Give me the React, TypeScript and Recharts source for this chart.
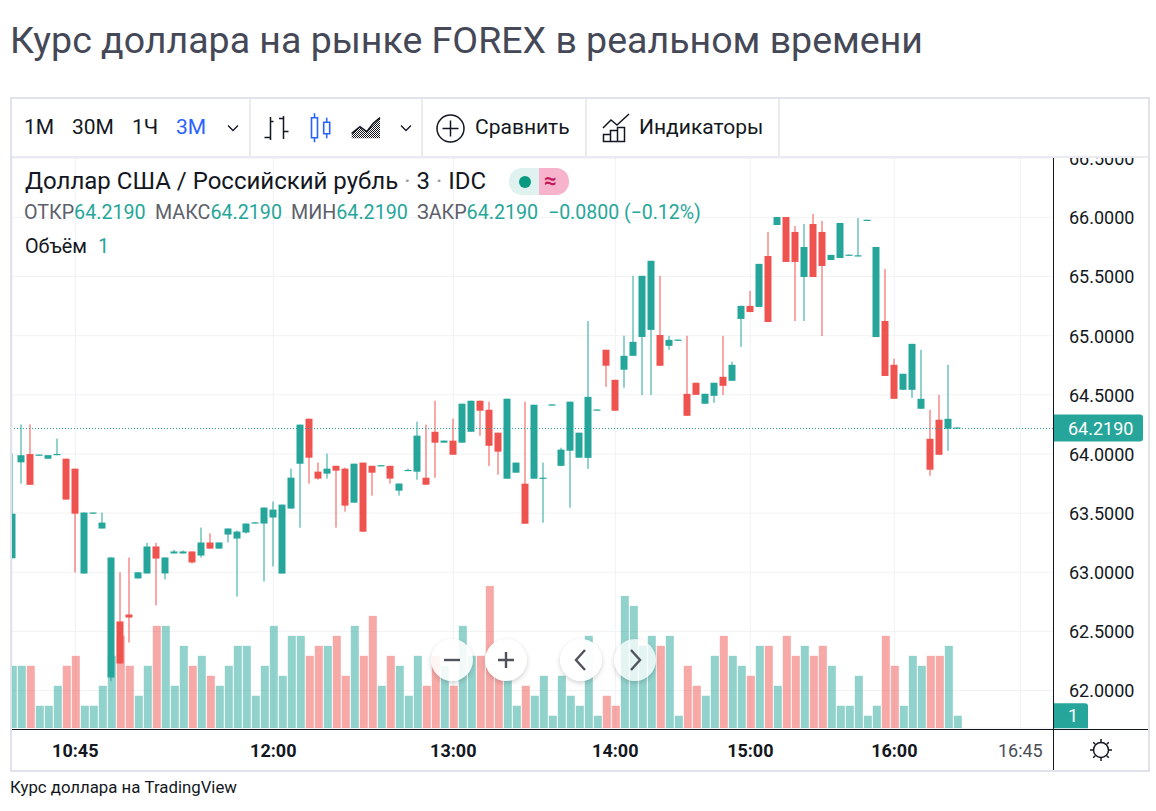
import { Bar, CartesianGrid, ComposedChart, ReferenceLine, XAxis, YAxis } from "recharts";

const opens = [
  63.12, 63.93, 64.0, 63.985, 63.96, 63.99, 63.96, 63.876, 62.99, 63.495, 63.37, 62.112, 62.585, 62.644, 62.948, 62.99,
  63.218, 62.99, 63.159, 63.159, 63.176, 63.142, 63.252, 63.2, 63.319, 63.285, 63.336, 63.412, 63.412, 63.463, 62.99,
  63.539, 63.918, 64.298, 63.851, 63.834, 63.9, 63.876, 63.589, 63.927, 63.9, 63.895, 63.9, 63.69, 63.86, 63.851, 63.8,
  64.188, 64.096, 64.113, 64.096, 64.188, 64.45, 64.374, 64.18, 63.792, 63.842, 63.75, 63.792, 63.792, 64.409, 63.9,
  64.028, 63.969, 63.969, 64.366, 64.881, 64.627, 64.713, 64.831, 64.99, 65.05, 65.007, 64.914, 64.957, 64.509, 64.602,
  64.425, 64.492, 64.653, 64.619, 65.142, 65.252, 65.244, 65.674, 65.936, 66.003, 65.877, 65.497, 65.944, 65.877, 65.64,
  65.657, 65.675, 65.672, 65.97, 64.99, 65.125, 64.754, 64.543, 64.543, 64.383, 64.129, 64.29, 64.214, 64.214,
];
const highs = [
  64.004, 64.25, 64.25, 63.995, 63.99, 64.13, 63.96, 63.876, 63.505, 63.505, 63.505, 63.125, 63.0, 63.125, 63.0, 63.249,
  63.249, 63.125, 63.19, 63.184, 63.176, 63.378, 63.328, 63.252, 63.37, 63.353, 63.412, 63.422, 63.547, 63.598, 63.572,
  63.876, 64.248, 64.298, 63.927, 64.003, 63.9, 63.885, 63.918, 63.927, 63.9, 63.905, 63.9, 63.75, 63.876, 64.273, 64.248,
  64.45, 64.113, 64.298, 64.425, 64.45, 64.45, 64.442, 64.18, 64.467, 63.927, 64.442, 64.416, 63.927, 64.419, 64.053,
  64.442, 64.18, 65.125, 64.376, 64.881, 64.627, 65.0, 65.506, 65.506, 65.633, 65.506, 64.999, 64.967, 64.999, 64.602,
  64.509, 64.602, 64.999, 64.78, 65.252, 65.379, 65.607, 65.877, 66.003, 66.003, 65.927, 65.944, 66.029, 65.97, 65.683,
  65.953, 65.685, 65.995, 65.98, 65.75, 65.564, 64.805, 64.678, 64.931, 64.881, 64.374, 64.5, 64.754, 64.224,
];
const lows = [
  63.12, 63.75, 63.74, 63.985, 63.96, 63.99, 63.615, 63.0, 62.99, 63.495, 63.37, 62.08, 62.23, 62.407, 62.948, 62.99,
  62.72, 62.94, 63.159, 63.159, 63.074, 63.125, 63.2, 63.2, 63.252, 62.796, 63.327, 63.412, 62.922, 63.05, 62.99, 63.539,
  63.378, 63.75, 63.783, 63.792, 63.378, 63.513, 63.589, 63.344, 63.648, 63.895, 63.75, 63.648, 63.86, 63.783, 63.741, 63.8,
  64.096, 63.994, 64.096, 64.188, 64.155, 63.9, 63.826, 63.792, 63.842, 63.412, 63.792, 63.42, 64.409, 63.9, 63.547,
  63.969, 63.876, 64.366, 64.568, 64.366, 64.56, 64.831, 64.5, 64.5, 64.747, 64.88, 64.957, 64.324, 64.5, 64.425, 64.433,
  64.5, 64.619, 64.906, 65.2, 65.244, 65.117, 65.936, 65.624, 65.125, 65.125, 65.497, 64.999, 65.64, 65.657, 65.675, 65.672,
  65.97, 64.99, 64.661, 64.467, 64.543, 64.475, 64.383, 63.817, 63.994, 64.028, 64.214,
];
const closes = [
  63.496, 63.99, 63.74, 63.995, 63.99, 64.0, 63.615, 63.496, 63.505, 63.505, 63.42, 63.125, 62.23, 62.618, 63.0, 63.218,
  63.116, 63.125, 63.176, 63.176, 63.083, 63.252, 63.2, 63.252, 63.37, 63.344, 63.412, 63.422, 63.547, 63.53, 63.572, 63.8,
  64.248, 63.969, 63.792, 63.876, 63.859, 63.564, 63.918, 63.344, 63.842, 63.905, 63.792, 63.75, 63.865, 64.155, 63.741,
  64.096, 64.113, 63.994, 64.425, 64.45, 64.366, 64.07, 64.02, 64.467, 63.927, 63.412, 64.416, 63.8, 64.419, 64.037,
  64.442, 64.18, 64.484, 64.376, 64.746, 64.366, 64.83, 64.949, 65.506, 65.633, 64.747, 64.965, 64.967, 64.324, 64.5,
  64.509, 64.602, 64.577, 64.754, 65.252, 65.2, 65.607, 65.117, 66.003, 65.624, 65.624, 65.75, 65.497, 65.59, 65.683,
  65.953, 65.685, 65.68, 65.98, 65.75, 64.661, 64.467, 64.678, 64.931, 64.467, 63.868, 63.994, 64.298, 64.224,
];
const volumes = [
  6, 6, 6, 2, 2, 4, 6, 7, 2, 2, 4, 7, 9, 6, 3, 6, 10, 10, 4, 8, 6, 7, 5, 4, 6, 8, 8, 3, 6, 10, 5, 9, 9, 7, 8, 8, 9, 5, 10, 7,
  11, 4, 7, 6, 3, 7, 4, 7, 6, 4, 10, 7, 7, 14, 5, 5, 2, 4, 3, 5, 1, 5, 3, 2, 9, 1, 3, 2, 13, 12, 8, 9, 8, 9, 1, 6, 4, 3, 7, 9,
  7, 6, 5, 8, 8, 4, 9, 7, 8, 7, 8, 6, 2, 2, 5, 1, 2, 9, 6, 2, 7, 6, 7, 7, 8, 1,
];

const timeTicks = [7, 29, 49, 67, 82, 98, 112];
const timeLabels = ["10:45", "12:00", "13:00", "14:00", "15:00", "16:00", "16:45"];
const priceTicks = [62, 62.5, 63, 63.5, 64, 64.5, 65, 65.5, 66, 66.5];
const lastPrice = 64.219;
const lastVolume = 1;

const legendValues = [
  { label: "ОТКР", value: "64.2190", x: 24 },
  { label: "МАКС", value: "64.2190", x: 155 },
  { label: "МИН", value: "64.2190", x: 291 },
  { label: "ЗАКР", value: "64.2190", x: 417 },
];

const UP = "#26a69a";
const DOWN = "#ef5350";
const FONT = "Roboto, sans-serif";
const PRICE_DOMAIN = [61.6835, 66.5105];
const PX_PER_UNIT = 572 / (PRICE_DOMAIN[1] - PRICE_DOMAIN[0]);

const rows = opens.map((open, i) => ({
  i,
  open,
  high: highs[i],
  low: lows[i],
  close: closes[i],
  volume: volumes[i],
}));

function Candle(props: any) {
  const { x, y, width, payload } = props;
  if (!payload) return null;
  const color = payload.close >= payload.open ? UP : DOWN;
  const cx = Math.round(x + width / 2);
  const yOf = (v: number) => y + (payload.high - v) * PX_PER_UNIT;
  const top = yOf(Math.max(payload.open, payload.close));
  const bottom = yOf(Math.min(payload.open, payload.close));
  return (
    <g>
      <rect x={cx - 0.5} y={y} width={1} height={(payload.high - payload.low) * PX_PER_UNIT} fill={color} />
      <rect x={cx - 3.5} y={top} width={7} height={Math.max(bottom - top, 1.2)} fill={color} />
    </g>
  );
}

function VolumeBar(props: any) {
  const { x, y, width, height, payload } = props;
  if (!payload) return null;
  const fill = payload.close >= payload.open ? UP : DOWN;
  return <rect x={x} y={y} width={width} height={height} fill={fill} fillOpacity={0.5} />;
}

function TimeTick({ x, y, payload }: any) {
  const idx = timeTicks.indexOf(payload.value);
  const minor = timeLabels[idx] === "16:45";
  return (
    <text
      x={x}
      y={y + 21}
      textAnchor="middle"
      fontFamily={FONT}
      fontSize={18}
      fontWeight={minor ? 400 : 700}
      fill={minor ? "#4a4e59" : "#131722"}
    >
      {timeLabels[idx]}
    </text>
  );
}

function PriceTag({ viewBox }: any) {
  const x = viewBox.x + viewBox.width;
  return (
    <g>
      <path d={`M${x} ${viewBox.y - 13.5}h87a3 3 0 0 1 3 3v21a3 3 0 0 1 -3 3h-87z`} fill={UP} />
      <text x={x + 15} y={viewBox.y + 7} fontFamily={FONT} fontSize={18} fill="#fff">
        {lastPrice.toFixed(4)}
      </text>
    </g>
  );
}

function VolumeTag({ viewBox }: any) {
  const x = viewBox.x + viewBox.width;
  return (
    <g>
      <path d={`M${x} ${viewBox.y - 12.5}h32a3 3 0 0 1 3 3v22h-35z`} fill={UP} />
      <text x={x + 20} y={viewBox.y + 6.5} textAnchor="middle" fontFamily={FONT} fontSize={18} fill="#fff">
        {lastVolume}
      </text>
    </g>
  );
}

const abs = (left: number, top: number, extra: any = {}): any => ({ position: "absolute", left, top, ...extra });
const label = (left: number, top: number, size: number, color: string, extra: any = {}) =>
  abs(left, top, { fontSize: size, color, lineHeight: "24px", whiteSpace: "nowrap", ...extra });

function Chevron({ x }: { x: number }) {
  return (
    <svg style={abs(x, 123)} width={14} height={10}>
      <path d="M2 2.5l5 5 5-5" fill="none" stroke="#131722" strokeWidth={1.3} />
    </svg>
  );
}

function RoundButton({ x, glyph, fade }: { x: number; glyph: string; fade: number }) {
  return (
    <div
      style={abs(x - 21, 639, {
        width: 42,
        height: 42,
        borderRadius: "50%",
        background: `rgba(255,255,255,${fade})`,
        boxShadow: "0 2px 5px rgba(0,0,0,0.18)",
      })}
    >
      <svg width={42} height={42}>
        <path d={glyph} fill="none" stroke="#50535e" strokeWidth={2.4} />
      </svg>
    </div>
  );
}

export default function App() {
  return (
    <div style={{ position: "absolute", left: 0, top: 0, width: 1156, height: 811, background: "#fff", fontFamily: FONT }}>
      <div style={abs(10, 16, { fontSize: 37.5, lineHeight: "48px", color: "#454857", whiteSpace: "nowrap" })}>
        Курс доллара на рынке FOREX в реальном времени
      </div>
      <div style={abs(10, 97, { width: 1140, height: 675, border: "2px solid #e0e3eb", boxSizing: "border-box" })} />

      <div style={abs(12, 157)}>
        <ComposedChart width={1137} height={613} data={rows} margin={{ top: 0, right: 0, bottom: 0, left: 0 }}>
          <CartesianGrid xAxisId="time" yAxisId="price" stroke="#f1f2f4" />
          <XAxis
            xAxisId="time"
            type="number"
            dataKey="i"
            domain={[-0.033, 115.63]}
            allowDataOverflow
            ticks={timeTicks}
            height={42}
            tickLine={false}
            axisLine={false}
            interval={0}
            tick={<TimeTick />}
          />
          <XAxis xAxisId="vol" type="number" dataKey="i" domain={[-0.033, 115.63]} allowDataOverflow hide />
          <YAxis
            yAxisId="price"
            orientation="right"
            width={96}
            domain={PRICE_DOMAIN}
            allowDataOverflow
            ticks={priceTicks}
            interval={0}
            tickLine={false}
            axisLine={false}
            tickFormatter={(v: number) => v.toFixed(4)}
            tick={{ fontFamily: FONT, fontSize: 18, fill: "#131722", textAnchor: "start", dy: 0.5 }}
            tickMargin={10}
          />
          <YAxis yAxisId="vol" hide domain={[-0.23, 56.97]} allowDataOverflow />
          <Bar
            xAxisId="vol"
            yAxisId="vol"
            dataKey={(d: any) => [-0.23, d.volume]}
            barSize={8}
            shape={<VolumeBar />}
            isAnimationActive={false}
          />
          <Bar
            xAxisId="time"
            yAxisId="price"
            dataKey={(d: any) => [d.low, d.high]}
            barSize={7}
            shape={<Candle />}
            isAnimationActive={false}
          />
          <ReferenceLine
            xAxisId="time"
            yAxisId="price"
            y={lastPrice}
            stroke={UP}
            strokeDasharray="1 2"
            shapeRendering="crispEdges"
            label={<PriceTag />}
          />
          <ReferenceLine
            xAxisId="vol"
            yAxisId="vol"
            y={lastVolume}
            stroke="none"
            label={<VolumeTag />}
          />
        </ComposedChart>
      </div>

      {/* axis lines */}
      <div style={abs(12, 729, { width: 1136, height: 1, background: "#131722" })} />
      <div style={abs(1053, 157, { width: 1, height: 613, background: "#131722" })} />

      {/* toolbar */}
      <div style={abs(12, 99, { width: 1136, height: 57, background: "#fff", borderBottom: "2px solid #e9ebf1", boxSizing: "content-box" })} />
      {[249, 421, 585, 778].map((x) => (
        <div key={x} style={abs(x, 99, { width: 1.5, height: 57, background: "#e9ebf1" })} />
      ))}
      <div style={label(24, 115, 21, "#131722")}>1М</div>
      <div style={label(72, 115, 21, "#131722")}>30М</div>
      <div style={label(132, 115, 21, "#131722")}>1Ч</div>
      <div style={label(176, 115, 21, "#2962ff")}>3М</div>
      <Chevron x={226} />
      <svg style={abs(262, 112)} width={125} height={32}>
        <defs>
          <pattern id="dots" width={2} height={2} patternUnits="userSpaceOnUse">
            <rect width={1} height={1} fill="#131722" />
            <rect x={1} y={1} width={1} height={1} fill="#131722" />
          </pattern>
        </defs>
        <path d="M8.500 5v23M2.500 25.500h6M8.500 9.500h3M21.500 4v23M17 6.500h4.500M21.500 19.500h5" fill="none" stroke="#131722" strokeWidth={1.5} />
        <path
          d="M52.500 1.300v4.400M52.500 25.700v4.600M64.700 5.700v4.600M64.700 21.700v4.600M49.500 5.700h6v20h-6zM61.700 10.300h6v11.400h-6z"
          fill="none"
          stroke="#2962ff"
          strokeWidth={1.6}
        />
        <path d="M89.700 26.300v-5l8.300-6.600 6.700 5 6.600-8.400 6.700-5.600v20.600z" fill="url(#dots)" />
        <path d="M89.700 21.300l8.300-6.600 6.700 5 6.600-8.400 6.700-5.600" fill="none" stroke="#131722" strokeWidth={1.5} />
      </svg>
      <Chevron x={399} />
      <svg style={abs(435, 113)} width={30} height={30}>
        <circle cx={15.500} cy={15.500} r={13.500} fill="none" stroke="#131722" strokeWidth={1.5} />
        <path d="M15.500 7.500v16M7.500 15.500h16" stroke="#131722" strokeWidth={1.5} />
      </svg>
      <div style={label(475, 115, 21, "#131722")}>Сравнить</div>
      <svg style={abs(601, 112)} width={30} height={32}>
        <path d="M2 16l8-8 6 5 12-11" fill="none" stroke="#131722" strokeWidth={1.5} />
        <path d="M2.500 22.500h7v7h-7zM9.500 18.500h7v11h-7zM16.500 15.500h7v14h-7z" fill="none" stroke="#131722" strokeWidth={1.5} />
      </svg>
      <div style={label(639, 115, 21, "#131722")}>Индикаторы</div>

      {/* legend */}
      <div style={label(25, 169, 24, "#131722")}>
        Доллар США / Российский рубль <span style={{ color: "#9598a1" }}>·</span> 3{" "}
        <span style={{ color: "#9598a1" }}>·</span> IDC
      </div>
      <div style={abs(509, 168, { width: 30, height: 27, background: "#dff2ef", borderRadius: "13px 0 0 13px" })} />
      <div style={abs(539, 168, { width: 30, height: 27, background: "#f7b3cc", borderRadius: "0 13px 13px 0" })} />
      <div style={abs(519, 175.5, { width: 12, height: 12, background: "#089981", borderRadius: "50%" })} />
      <div style={label(544, 169, 22, "#c2185b", { fontWeight: 700 })}>≈</div>
      {legendValues.map((d) => (
        <div key={d.label} style={label(d.x, 200.5, 19.7, "#5d606b")}>
          {d.label}
          <span style={{ color: UP }}>{d.value}</span>
        </div>
      ))}
      <div style={label(548, 200.5, 19.5, UP)}>−0.0800 (−0.12%)</div>
      <div style={label(25, 235, 19.8, "#131722")}>Объём</div>
      <div style={label(98, 235, 19.8, UP)}>1</div>

      {/* zoom and scroll buttons */}
      <RoundButton x={452} fade={0.88} glyph="M13 21h16" />
      <RoundButton x={506} fade={1} glyph="M13 21h16M21 13v16" />
      <RoundButton x={581} fade={0.95} glyph="M25 11l-9 10 9 10" />
      <RoundButton x={635} fade={0.75} glyph="M17 11l9 10-9 10" />

      <svg style={abs(1088, 737)} width={26} height={26}>
        <circle cx={13} cy={13} r={7.500} fill="none" stroke="#131722" strokeWidth={1.5} />
        <path
          d="M13 2v3M13 21v3M2 13h3M21 13h3M5.200 5.200l2 2M18.800 18.800l2 2M5.200 20.800l2-2M18.800 7.200l2-2"
          stroke="#131722"
          strokeWidth={1.5}
        />
      </svg>

      <div style={label(10, 775, 16.8, "#131722")}>Курс доллара на TradingView</div>
    </div>
  );
}
